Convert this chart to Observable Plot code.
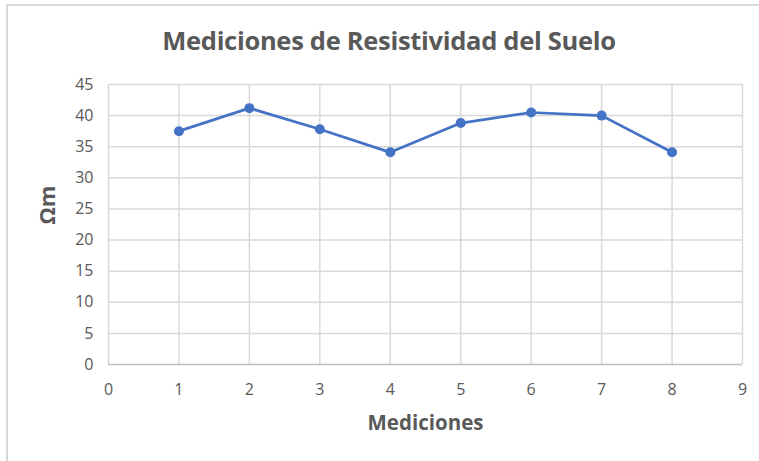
<!DOCTYPE html>
<html>
<head>
<meta charset="utf-8">
<script src="https://cdn.jsdelivr.net/npm/d3@7"></script>
<script src="https://cdn.jsdelivr.net/npm/@observablehq/plot@0.6"></script>
<style>
  html, body { margin: 0; padding: 0; background: #fff; }
  #wrap { position: absolute; left: 0; top: 0; width: 759px; height: 461px; overflow: hidden; background: #fff; }
  #frame { position: absolute; left: 6px; top: 4px; width: 760px; height: 470px; border-left: 2px solid #d9d9d9; border-top: 2px solid #d9d9d9; }
  #title { position: absolute; left: 0; top: 22px; width: 778px; text-align: center; font-family: "Open Sans", sans-serif; font-weight: 700; font-size: 25.5px; line-height: 36px; color: #595959; letter-spacing: -0.3px; }
  #chart { position: absolute; left: 0; top: 70px; }
</style>
</head>
<body>
<div id="wrap">
  <div id="frame"></div>
  <div id="title">Mediciones de Resistividad del Suelo</div>
  <div id="chart"></div>
</div>
<script>
const mediciones = [1, 2, 3, 4, 5, 6, 7, 8];
const resistividad = [37.5, 41.2, 37.8, 34.1, 38.8, 40.5, 40.0, 34.1];
const xTicks = [0, 1, 2, 3, 4, 5, 6, 7, 8, 9];
const yTicks = [0, 5, 10, 15, 20, 25, 30, 35, 40, 45];

const data = mediciones.map((m, i) => ({ m, v: resistividad[i] }));

const chart = Plot.plot({
  width: 759,
  height: 391,
  marginLeft: 108,
  marginRight: 17,
  marginTop: 14,
  marginBottom: 97,
  style: { fontFamily: "Open Sans, sans-serif", fontSize: "16px", color: "#595959", background: "transparent" },
  x: { domain: [0, 9], axis: null },
  y: { domain: [0, 45], axis: null },
  marks: [
    Plot.ruleX(xTicks, { stroke: "#d9d9d9", strokeWidth: 1.5 }),
    Plot.ruleY(yTicks.filter(d => d > 0), { stroke: "#d9d9d9", strokeWidth: 1.5 }),
    Plot.ruleY([0], { stroke: "#bfbfbf", strokeWidth: 1.5 }),
    Plot.text(xTicks, { x: d => d, frameAnchor: "bottom", dy: 25, lineAnchor: "middle", fontSize: 16, fill: "#595959" }),
    Plot.text(yTicks, { y: d => d, frameAnchor: "left", dx: -15, textAnchor: "end", lineAnchor: "middle", fontSize: 16, fill: "#595959" }),
    Plot.line(data, { x: "m", y: "v", stroke: "#4472c4", strokeWidth: 2.75 }),
    Plot.dot(data, { x: "m", y: "v", r: 5, fill: "#4472c4", stroke: "none" }),
    Plot.text(["Mediciones"], { frameAnchor: "bottom", dy: 65, fontSize: 20.5, fontWeight: "bold", fill: "#595959" }),
    Plot.text(["Ωm"], { frameAnchor: "left", dx: -61, rotate: -90, fontSize: 22, fontWeight: "bold", fill: "#595959" })
  ]
});
document.getElementById("chart").appendChild(chart);
</script>
</body>
</html>
